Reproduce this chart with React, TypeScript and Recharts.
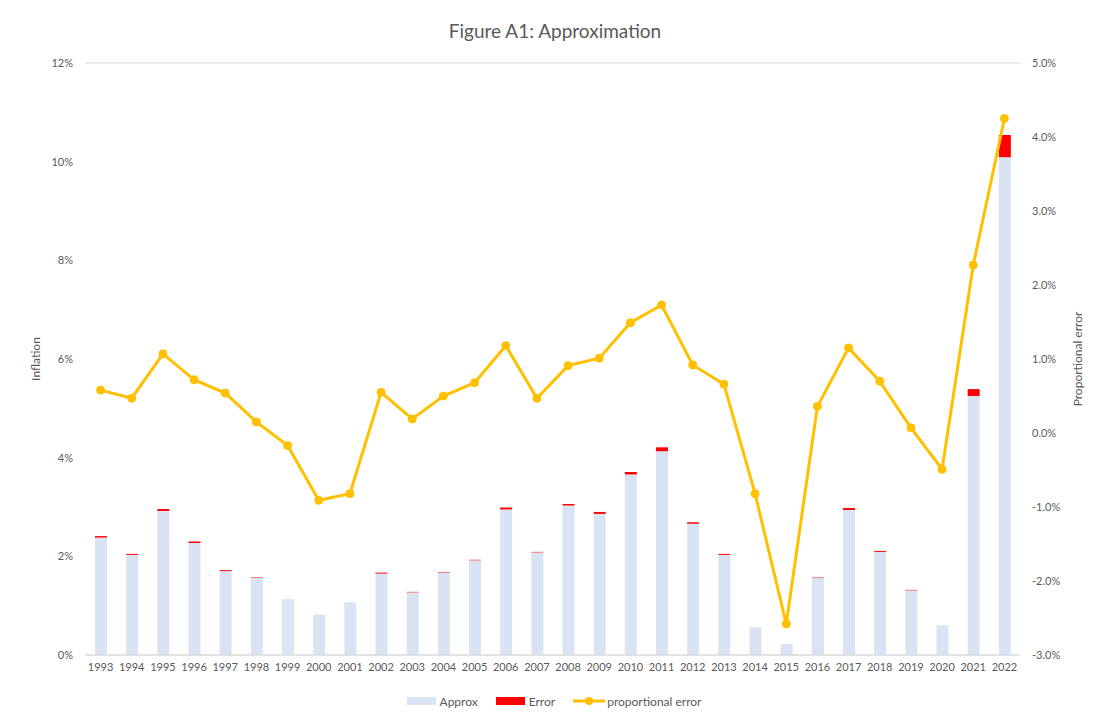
import React from "react";
import {
  ComposedChart,
  Bar,
  Line,
  XAxis,
  YAxis,
  CartesianGrid,
  Legend,
} from "recharts";

const years = [
  "1993", "1994", "1995", "1996", "1997", "1998", "1999", "2000", "2001", "2002",
  "2003", "2004", "2005", "2006", "2007", "2008", "2009", "2010", "2011", "2012",
  "2013", "2014", "2015", "2016", "2017", "2018", "2019", "2020", "2021", "2022",
];

// inflation, in %
const approx = [
  2.38, 2.03, 2.92, 2.27, 1.70, 1.56, 1.13, 0.82, 1.07, 1.65,
  1.27, 1.67, 1.92, 2.95, 2.08, 3.03, 2.86, 3.66, 4.13, 2.66,
  2.03, 0.56, 0.22, 1.56, 2.94, 2.09, 1.31, 0.60, 5.25, 10.09,
];

const error = [
  0.03, 0.02, 0.04, 0.03, 0.02, 0.01, 0, 0, 0, 0.02,
  0.01, 0.01, 0.01, 0.04, 0.01, 0.03, 0.04, 0.05, 0.08, 0.03,
  0.02, 0, 0, 0.01, 0.04, 0.02, 0.01, 0, 0.14, 0.45,
];

// proportional error, in %
const propError = [
  0.58, 0.47, 1.07, 0.72, 0.54, 0.15, -0.17, -0.91, -0.82, 0.55,
  0.19, 0.5, 0.68, 1.18, 0.47, 0.91, 1.01, 1.49, 1.73, 0.92,
  0.66, -0.82, -2.58, 0.36, 1.15, 0.7, 0.07, -0.49, 2.27, 4.25,
];

const leftTicks = [0, 2, 4, 6, 8, 10, 12];
const rightTicks = [-3, -2, -1, 0, 1, 2, 3, 4, 5];

const data = years.map((year, i) => ({
  year,
  approx: approx[i],
  error: error[i],
  prop: propError[i],
}));

const textColor = "#595959";
const font = "Lato, 'Open Sans', sans-serif";

function LegendBox() {
  return (
    <div
      style={{
        display: "flex",
        justifyContent: "center",
        alignItems: "center",
        height: 30,
        gap: 18,
        fontSize: 12,
        color: textColor,
        fontFamily: font,
      }}
    >
      <span style={{ display: "flex", alignItems: "center", gap: 4 }}>
        <span style={{ width: 29, height: 8, background: "#DAE3F3" }} />
        Approx
      </span>
      <span style={{ display: "flex", alignItems: "center", gap: 4 }}>
        <span style={{ width: 29, height: 8, background: "#FF0000" }} />
        Error
      </span>
      <span style={{ display: "flex", alignItems: "center", gap: 2 }}>
        <svg width={32} height={10}>
          <line x1={0} y1={5} x2={32} y2={5} stroke="#FFC000" strokeWidth={3} />
          <circle cx={16} cy={5} r={4} fill="#FFC000" />
        </svg>
        proportional error
      </span>
    </div>
  );
}

export default function App() {
  return (
    <div
      style={{
        position: "absolute",
        left: 0,
        top: 0,
        width: 1096,
        height: 716,
        background: "#fff",
        fontFamily: font,
      }}
    >
      <div
        style={{
          position: "absolute",
          top: 19,
          left: 0,
          width: 1110,
          textAlign: "center",
          fontSize: 19,
          color: textColor,
        }}
      >
        Figure A1: Approximation
      </div>
      <ComposedChart
        width={1096}
        height={716}
        data={data}
        margin={{ top: 63, right: 10, bottom: 11, left: 22 }}
      >
        <CartesianGrid vertical={false} stroke="#D9D9D9" />
        <XAxis
          dataKey="year"
          tickLine={false}
          axisLine={{ stroke: "#D9D9D9" }}
          tick={{ fill: textColor, fontSize: 11 }}
          height={20}
          interval={0}
        />
        <YAxis
          yAxisId="left"
          domain={[0, 12]}
          ticks={leftTicks}
          width={63}
          axisLine={false}
          tickLine={false}
          tickMargin={6}
          tick={{ fill: textColor, fontSize: 11 }}
          tickFormatter={(v) => `${v}%`}
          label={{
            value: "Inflation",
            angle: -90,
            position: "insideLeft",
            offset: 14,
            style: { fill: textColor, fontSize: 12, textAnchor: "middle" },
          }}
        />
        <YAxis
          yAxisId="right"
          orientation="right"
          domain={[-3, 5]}
          ticks={rightTicks}
          width={66}
          axisLine={false}
          tickLine={false}
          tickMargin={6}
          tick={{ fill: textColor, fontSize: 11 }}
          tickFormatter={(v) => `${v.toFixed(1)}%`}
          label={{
            value: "Proportional error",
            angle: -90,
            position: "insideRight",
            offset: 8,
            style: { fill: textColor, fontSize: 12, textAnchor: "middle" },
          }}
        />
        <Bar
          yAxisId="left"
          dataKey="approx"
          name="Approx"
          stackId="a"
          fill="#DAE3F3"
          barSize={12}
          isAnimationActive={false}
        />
        <Bar
          yAxisId="left"
          dataKey="error"
          name="Error"
          stackId="a"
          fill="#FF0000"
          barSize={12}
          isAnimationActive={false}
        />
        <Line
          yAxisId="right"
          dataKey="prop"
          name="proportional error"
          stroke="#FFC000"
          strokeWidth={3}
          dot={{ r: 4, fill: "#FFC000", stroke: "#FFC000", strokeWidth: 1 }}
          isAnimationActive={false}
        />
        <Legend
          verticalAlign="bottom"
          height={30}
          wrapperStyle={{ bottom: 0 }}
          content={() => <LegendBox />}
        />
      </ComposedChart>
    </div>
  );
}
